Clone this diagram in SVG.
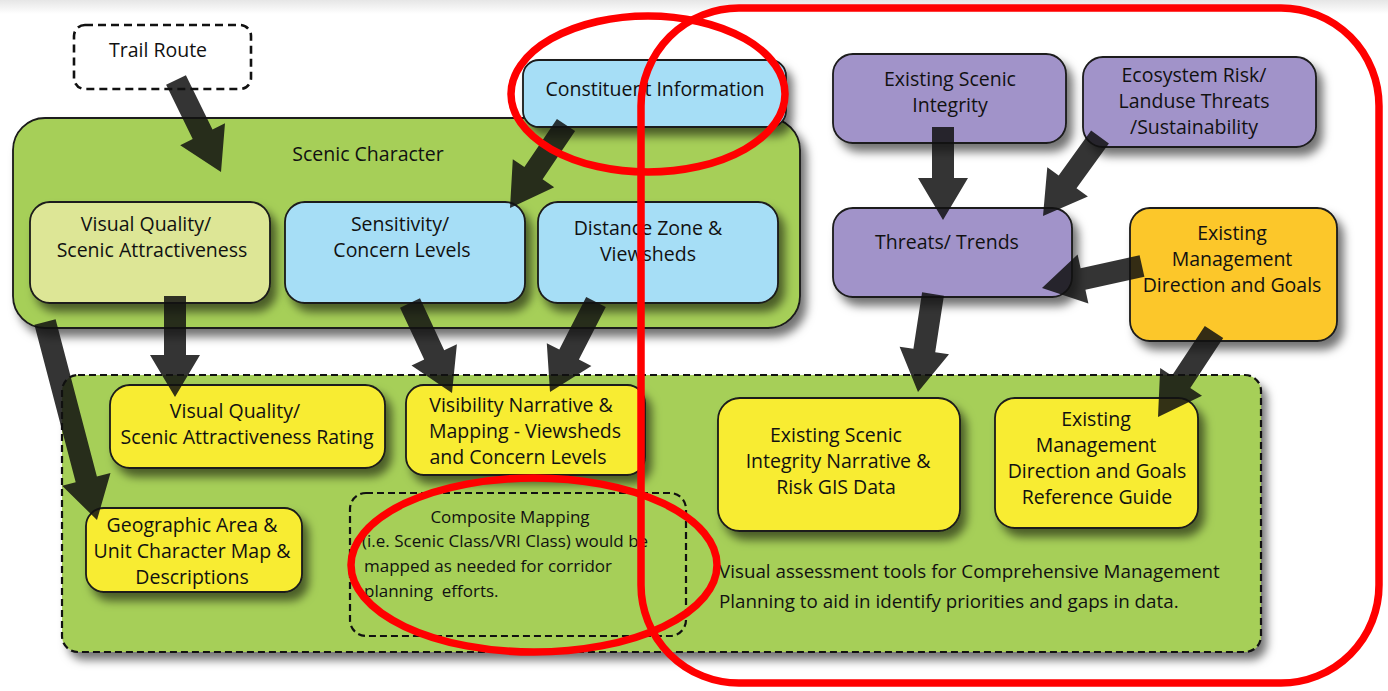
<svg xmlns="http://www.w3.org/2000/svg" width="1388" height="691" viewBox="0 0 1388 691">
<defs>
<filter id="sh" x="-10%" y="-10%" width="130%" height="140%">
<feDropShadow dx="6" dy="8" stdDeviation="5" flood-color="#000" flood-opacity="0.55"/>
</filter>
<linearGradient id="topg" x1="0" y1="0" x2="0" y2="1"><stop offset="0" stop-color="#e6e6e6"/><stop offset="1" stop-color="#ffffff"/></linearGradient>
</defs>
<style>
text{font-family:"Open Sans","Liberation Sans",sans-serif;font-size:19.5px;fill:#111;text-anchor:middle}
.box{stroke:#1a1a1a;stroke-width:1.8}
.grn{fill:#a6cf58}
.lg{fill:#dde696}
.blu{fill:#a6def6}
.pur{fill:#a193c9}
.org{fill:#fcc72b}
.yel{fill:#f8ec30}
.dash{fill:none;stroke:#111;stroke-width:2.2;stroke-dasharray:7 4}
.arr{fill:#111;fill-opacity:0.85}
.red{fill:none;stroke:#f00;stroke-width:7.5}
.lt{text-anchor:start}
.sm{font-size:17px}
.bt{font-size:18.8px}
</style>
<rect x="0" y="0" width="1388" height="691" fill="#fff"/>
<rect x="0" y="0" width="1388" height="14" fill="url(#topg)"/>

<g id="scenic-character">
<rect class="box grn" x="13" y="118" width="787" height="210" rx="32" filter="url(#sh)"/>
<text x="368" y="161">Scenic Character</text>
</g>
<g id="trail-route">
<rect x="74" y="25" width="177" height="64" rx="11" fill="#fff" stroke="#111" stroke-width="2.6" stroke-dasharray="8 5"/>
<text x="158" y="57">Trail Route</text>
</g>
<g id="constituent-information">
<rect class="box blu" x="523" y="60" width="263" height="67" rx="16" filter="url(#sh)"/>
<text x="655" y="96">Constituent Information</text>
</g>
<g id="visual-quality">
<rect class="box lg" x="30" y="202" width="240" height="101" rx="20" filter="url(#sh)"/>
<text x="146" y="231">Visual Quality/</text>
<text x="152" y="257">Scenic Attractiveness</text>
</g>
<g id="sensitivity">
<rect class="box blu" x="285" y="202" width="240" height="101" rx="20" filter="url(#sh)"/>
<text x="400" y="231">Sensitivity/</text>
<text x="402" y="257">Concern Levels</text>
</g>
<g id="distance-zone">
<rect class="box blu" x="538" y="202" width="240" height="101" rx="20" filter="url(#sh)"/>
<text x="648" y="235">Distance Zone &amp;</text>
<text x="648" y="261">Viewsheds</text>
</g>

<g id="existing-scenic-integrity">
<rect class="box pur" x="833" y="54" width="233" height="89" rx="20" filter="url(#sh)"/>
<text x="950" y="86">Existing Scenic</text>
<text x="950" y="112">Integrity</text>
</g>
<g id="ecosystem-risk">
<rect class="box pur" x="1083" y="57" width="233" height="90" rx="20" filter="url(#sh)"/>
<text x="1194" y="82">Ecosystem Risk/</text>
<text x="1194" y="108">Landuse Threats</text>
<text x="1194" y="134">/Sustainability</text>
</g>
<g id="threats-trends">
<rect class="box pur" x="833" y="208" width="239" height="89" rx="20" filter="url(#sh)"/>
<text x="947" y="249">Threats/ Trends</text>
</g>
<g id="existing-management">
<rect class="box org" x="1130" y="208" width="207" height="133" rx="20" filter="url(#sh)"/>
<text x="1232" y="240">Existing</text>
<text x="1232" y="266">Management</text>
<text x="1232" y="292">Direction and Goals</text>
</g>

<g id="tools-container">
<rect x="62" y="375" width="1199" height="277" rx="16" class="grn" filter="url(#sh)"/>
<rect x="62" y="375" width="1199" height="277" rx="16" class="dash"/>
<text class="lt bt" x="719" y="578">Visual assessment tools for Comprehensive Management</text>
<text class="lt bt" x="719" y="608">Planning to aid in identify priorities and gaps in data.</text>
</g>
<g id="vq-rating">
<rect class="box yel" x="110" y="385" width="275" height="83" rx="20" filter="url(#sh)"/>
<text x="235" y="418">Visual Quality/</text>
<text x="247" y="444">Scenic Attractiveness Rating</text>
</g>
<g id="visibility-narrative">
<rect class="box yel" x="406" y="385" width="239" height="90" rx="18" filter="url(#sh)"/>
<text x="521" y="412">Visibility Narrative &amp;</text>
<text x="525" y="438">Mapping - Viewsheds</text>
<text x="518" y="464">and Concern Levels</text>
</g>
<g id="geographic-area">
<rect class="box yel" x="86" y="508" width="216" height="84" rx="18" filter="url(#sh)"/>
<text x="192" y="532">Geographic Area &amp;</text>
<text x="192" y="558">Unit Character Map &amp;</text>
<text x="192" y="584">Descriptions</text>
</g>
<g id="composite-mapping">
<rect x="350" y="493" width="336" height="143" rx="16" class="dash" stroke-width="1.8"/>
<text class="sm" x="510" y="523">Composite Mapping</text>
<text class="lt sm" x="362" y="547">(i.e. Scenic Class/VRI Class) would be</text>
<text class="lt sm" x="364" y="572">mapped as needed for corridor</text>
<text class="lt sm" x="364" y="597" xml:space="preserve">planning  efforts.</text>
</g>
<g id="integrity-narrative">
<rect class="box yel" x="718" y="398" width="242" height="133" rx="22" filter="url(#sh)"/>
<text x="836" y="442">Existing Scenic</text>
<text x="838" y="468">Integrity Narrative &amp;</text>
<text x="836" y="494">Risk GIS Data</text>
</g>
<g id="reference-guide">
<rect class="box yel" x="995" y="398" width="203" height="130" rx="20" filter="url(#sh)"/>
<text x="1096" y="426">Existing</text>
<text x="1096" y="452">Management</text>
<text x="1097" y="478">Direction and Goals</text>
<text x="1097" y="504">Reference Guide</text>
</g>

<g id="connectors">
<polygon class="arr" points="166.1,84.8 192.7,139.1 180.2,145.3 221,172 225,123.3 212.5,129.5 185.9,75.2"/>
<polygon class="arr" points="556.9,118.9 524.4,167.1 512.8,159.2 510,208 554.2,187.2 542.6,179.3 575.1,131.1"/>
<polygon class="arr" points="164,296 164,355 150,355 175,397 200,355 186,355 186,296"/>
<polygon class="arr" points="34.4,324.8 75.7,482.2 62.1,485.8 97,520 110.5,473 96.9,476.6 55.6,319.2"/>
<polygon class="arr" points="400,307.7 424.2,359.6 411.5,365.5 452,393 456.9,344.3 444.2,350.2 420,298.3"/>
<polygon class="arr" points="586.2,297 559.3,349.6 546.8,343.2 550,392 591.4,366 578.9,359.6 605.8,307"/>
<polygon class="arr" points="932,127 932,178 918,178 943,220 968,178 954,178 954,127"/>
<polygon class="arr" points="1091.1,130.6 1058.7,175.5 1047.3,167.3 1043,216 1087.9,196.5 1076.5,188.3 1108.9,143.4"/>
<polygon class="arr" points="1139.6,255.3 1080.6,268.3 1077.6,254.6 1042,288 1088.4,303.4 1085.4,289.7 1144.4,276.7"/>
<polygon class="arr" points="922.1,292.3 913.4,348.8 899.6,346.7 918,392 949,354.3 935.2,352.2 943.9,295.7"/>
<polygon class="arr" points="1204.8,325.9 1171.9,375.8 1160.2,368.1 1158,417 1202,395.7 1190.3,388 1223.2,338.1"/>
</g>

<g id="annotations">
<ellipse class="red" cx="648" cy="94" rx="137" ry="78"/>
<rect class="red" x="641" y="8" width="738" height="675" rx="98"/>
<ellipse class="red" cx="534" cy="565" rx="183" ry="87"/>
</g>
</svg>
